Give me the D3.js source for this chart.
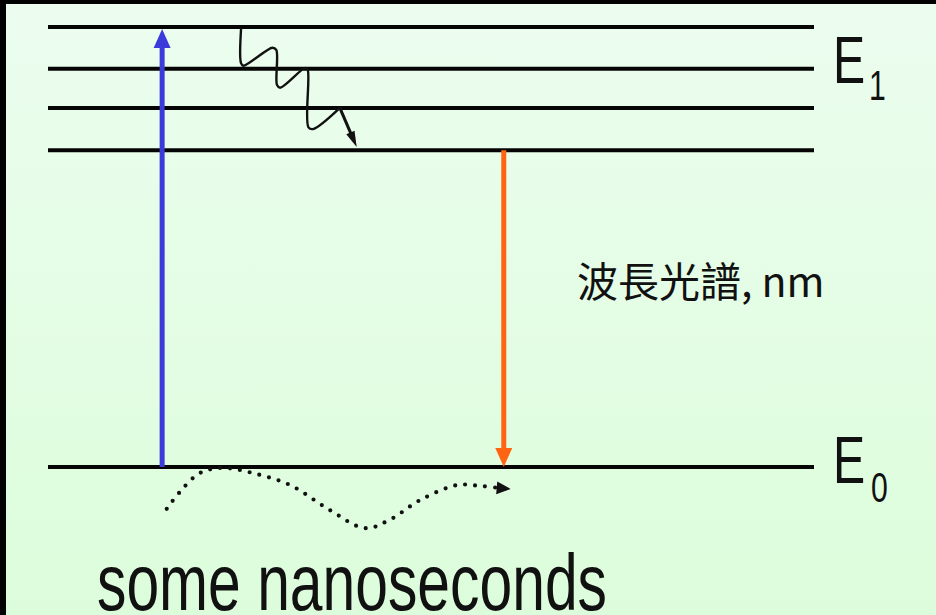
<!DOCTYPE html>
<html>
<head>
<meta charset="utf-8">
<script src="https://cdn.jsdelivr.net/npm/d3@7"></script>
<style>
  html, body { margin: 0; padding: 0; background: #000; }
  svg { display: block; }
</style>
</head>
<body>
<svg id="chart" width="936" height="615"></svg>
<script>
// ---- data ----
const levelNames = ["E0", "v0", "v1", "v2", "v3"];
const levelEnergy = [0, 0.72, 0.816, 0.905, 1.0];
const stateLabels = [{ main: "E", sub: "0", energy: 0 }, { main: "E", sub: "1", energy: 0.905 }];
const absorptionX = 14.9;      // blue excitation arrow position
const emissionX = 59.5;        // orange emission arrow position
const relaxX = [25.2, 25.2, 25.5, 29.3, 29.8, 29.9, 30.3, 33.6, 33.9, 34.0, 34.6, 38.1];
const relaxE = [0.995, 0.918, 0.912, 0.953, 0.948, 0.868, 0.862, 0.907, 0.903, 0.772, 0.768, 0.816];
const relaxTip = [40.3, 0.727];
const timeX = [15.5, 17.2, 19.8, 22.7, 26.8, 31.6, 36.8, 41.4, 44.6, 48.6, 53.4, 56.4, 59.0];
const timeE = [-0.095, -0.057, -0.014, -0.002, -0.014, -0.041, -0.098, -0.139, -0.120, -0.075, -0.041, -0.043, -0.048];
const timeTip = [60.4, -0.05];
const spectrumLabel = "波長光譜, nm";
const timeLabel = "some nanoseconds";

// ---- layout ----
const svg = d3.select("#chart");
const x = d3.scaleLinear().domain([0, 100]).range([48, 814]);
const y = d3.scaleLinear().domain([0, 1]).range([467, 27]);

const defs = svg.append("defs");
const grad = defs.append("linearGradient").attr("id", "bg").attr("x1", 0).attr("y1", 0).attr("x2", 0).attr("y2", 1);
grad.append("stop").attr("offset", "0%").attr("stop-color", "#ecfdef");
grad.append("stop").attr("offset", "100%").attr("stop-color", "#dcfddb");

svg.append("rect").attr("x", 6).attr("y", 4).attr("width", 930).attr("height", 611).attr("fill", "url(#bg)");

// energy levels
svg.append("g").selectAll("line").data(levelEnergy).join("line")
  .attr("x1", x(0)).attr("x2", x(100))
  .attr("y1", d => y(d)).attr("y2", d => y(d))
  .attr("stroke", "#050505").attr("stroke-width", 4);

function arrowHead(tipX, tipY, dx, dy, len, half, color) {
  const n = Math.hypot(dx, dy); const ux = dx / n, uy = dy / n;
  const bx = tipX - ux * len, by = tipY - uy * len;
  const px = -uy * half, py = ux * half;
  svg.append("path")
    .attr("d", `M${tipX},${tipY}L${bx + px},${by + py}L${bx - px},${by - py}Z`)
    .attr("fill", color);
}

// absorption (blue)
const blue = "#3b3bdb";
svg.append("line").attr("x1", x(absorptionX)).attr("x2", x(absorptionX))
  .attr("y1", y(0)).attr("y2", y(1) + 16)
  .attr("stroke", blue).attr("stroke-width", 5);
arrowHead(x(absorptionX), y(1) + 2, 0, -1, 19, 8.5, blue);

// emission (orange)
const orange = "#ff6412";
svg.append("line").attr("x1", x(emissionX)).attr("x2", x(emissionX))
  .attr("y1", y(0.72)).attr("y2", y(0) - 16)
  .attr("stroke", orange).attr("stroke-width", 5);
arrowHead(x(emissionX), y(0), 0, 1, 19, 8.5, orange);

// vibrational relaxation squiggle
const line = d3.line().x(d => x(d[0])).y(d => y(d[1])).curve(d3.curveCatmullRom.alpha(0.5));
const relaxPts = relaxX.map((v, i) => [v, relaxE[i]]);
svg.append("path").attr("d", line(relaxPts))
  .attr("fill", "none").attr("stroke", "#111").attr("stroke-width", 2.4)
  .attr("stroke-linejoin", "round").attr("stroke-linecap", "round");
const last = relaxPts[relaxPts.length - 1];
svg.append("line").attr("x1", x(last[0])).attr("y1", y(last[1]))
  .attr("x2", x(relaxTip[0]) - 3).attr("y2", y(relaxTip[1]) - 7)
  .attr("stroke", "#111").attr("stroke-width", 3);
arrowHead(x(relaxTip[0]), y(relaxTip[1]), x(relaxTip[0]) - x(last[0]), y(relaxTip[1]) - y(last[1]), 16, 4.5, "#111");

// dotted lifetime curve
const curve = d3.line().x(d => x(d[0])).y(d => y(d[1])).curve(d3.curveCatmullRom);
const timePts = timeX.map((v, i) => [v, timeE[i]]);
svg.append("path").attr("d", curve(timePts))
  .attr("fill", "none").attr("stroke", "#111").attr("stroke-width", 4.2)
  .attr("stroke-linecap", "round").attr("stroke-dasharray", "0 10");
const tl = timePts[timePts.length - 1];
arrowHead(x(timeTip[0]), y(timeTip[1]), x(timeTip[0]) - x(tl[0]), y(timeTip[1]) - y(tl[1]), 14, 6.5, "#111");

// state labels
const lbl = svg.append("g").selectAll("g").data(stateLabels).join("g");
lbl.append("text")
  .attr("transform", d => `translate(833,${y(d.energy) + (d.energy === 0 ? 16 : 14)}) scale(0.72,1)`)
  .attr("font-family", "Liberation Sans, Arial, sans-serif").attr("font-size", 67)
  .attr("fill", "#111").text(d => d.main);
lbl.append("text")
  .attr("transform", d => `translate(${d.energy === 0 ? 871 : 869},${y(d.energy) + (d.energy === 0 ? 35 : 31)}) scale(0.72,1)`)
  .attr("font-family", "Liberation Sans, Arial, sans-serif").attr("font-size", 42)
  .attr("fill", "#111").text(d => d.sub);

// spectrum label
svg.append("text").attr("x", 577).attr("y", 297)
  .attr("font-family", "Noto Sans CJK TC, sans-serif").attr("font-size", 41)
  .attr("fill", "#111").text(spectrumLabel);

// time label
svg.append("text").attr("x", 97).attr("y", 610)
  .attr("font-family", "Liberation Sans, Arial, sans-serif").attr("font-size", 79)
  .attr("textLength", 510).attr("lengthAdjust", "spacingAndGlyphs")
  .attr("fill", "#111").text(timeLabel);
</script>
</body>
</html>
